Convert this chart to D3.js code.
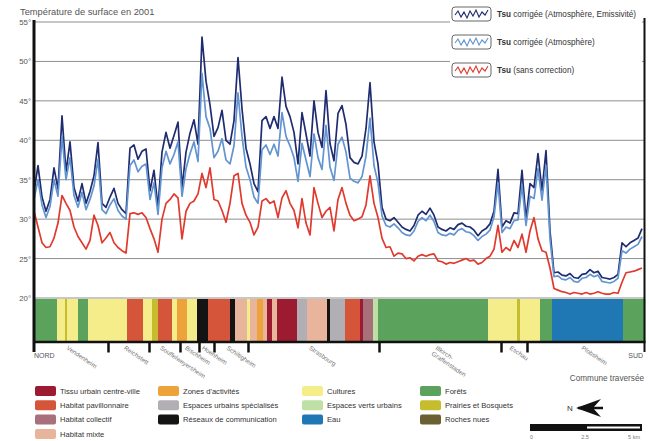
<!DOCTYPE html>
<html><head><meta charset="utf-8">
<script src="https://cdn.jsdelivr.net/npm/d3@7"></script>
<style>body{margin:0;background:#fff} svg{display:block} text{font-family:"Liberation Sans",Arial,sans-serif}</style>
</head><body><svg id="c" width="649" height="441"></svg>
<script>
// Surface temperature along the north-south transect (one sample every step)
const tEmis = [33.5,36.8,32.8,31.0,32.5,36.5,33.8,43.1,36.0,39.8,
 34.0,32.3,34.5,32.0,33.5,35.5,39.7,32.0,31.5,32.8,
 33.9,32.0,31.2,30.7,39.0,39.4,37.6,38.6,38.9,33.6,
 36.2,31.5,38.5,41.0,39.0,40.6,42.3,34.0,38.5,40.9,
 42.6,39.5,53.1,47.5,44.5,40.5,41.6,43.8,40.0,39.5,
 42.5,50.5,44.0,39.0,37.0,34.5,33.5,42.5,43.0,41.5,
 43.0,41.5,48.0,44.3,43.0,41.0,37.0,43.5,40.8,38.0,
 45.0,41.0,39.1,46.3,39.6,37.4,43.4,44.4,42.0,37.8,
 37.2,37.0,38.0,41.5,47.3,39.8,37.0,31.5,30.0,29.8,
 30.2,29.6,29.0,28.7,28.5,29.2,30.5,31.0,30.6,31.4,
 30.5,29.0,28.7,28.5,28.9,28.7,29.3,29.5,29.1,29.0,
 28.6,27.9,28.5,28.8,29.4,31.0,36.3,29.0,29.8,29.5,
 30.8,30.7,36.2,30.0,34.5,34.0,38.3,33.6,38.7,28.5,
 23.2,23.3,22.9,22.8,23.1,22.6,22.5,23.0,23.1,23.6,
 23.2,23.4,22.6,22.5,22.4,22.6,23.0,27.0,26.5,27.0,
 27.3,27.6,28.8];
const tAtm = [32.5,35.0,31.8,30.2,31.6,35.0,32.9,40.5,35.0,37.8,
 33.0,31.5,33.4,31.2,32.5,34.2,37.6,31.2,30.7,31.8,
 32.6,31.1,30.4,30.0,36.8,37.5,36.0,36.7,37.0,32.5,
 34.6,30.6,36.5,38.6,37.0,38.2,39.8,32.9,36.4,38.3,
 39.8,37.3,48.5,43.0,41.5,37.8,38.6,40.2,37.5,37.0,
 39.3,46.0,40.5,36.6,35.0,32.8,32.0,38.8,39.4,38.2,
 39.5,38.0,43.5,40.5,39.3,37.8,34.8,39.6,37.5,35.4,
 40.8,37.8,36.3,41.9,36.6,34.9,39.5,40.4,38.5,35.2,
 34.8,34.6,35.4,38.0,42.8,36.8,34.6,30.4,29.2,29.0,
 29.4,28.9,28.3,28.0,27.9,28.5,29.7,30.2,29.8,30.5,
 29.7,28.3,28.0,27.9,28.2,28.0,28.6,28.8,28.4,28.3,
 27.9,27.3,27.8,28.1,28.6,30.3,34.6,28.3,29.0,28.8,
 29.8,29.9,34.3,29.2,32.9,32.6,36.4,32.4,36.8,27.5,
 22.7,22.8,22.4,22.3,22.6,22.1,22.0,22.5,22.6,23.0,
 22.7,22.9,22.1,22.0,21.9,22.1,22.5,26.0,25.7,26.2,
 26.5,26.8,27.8];
const tRaw = [31.0,29.0,27.0,26.4,26.5,27.6,29.5,33.0,32.0,31.1,
 29.0,27.8,27.0,26.2,27.3,30.5,29.2,27.0,27.6,28.3,
 27.0,26.4,26.0,25.7,30.7,30.8,30.6,30.8,30.2,28.8,
 27.5,25.8,30.0,32.0,32.5,33.2,32.7,27.5,31.0,32.0,
 32.3,33.2,35.8,34.0,36.5,32.5,32.3,31.1,29.6,32.0,
 35.5,35.8,32.0,30.5,29.6,28.0,29.0,32.3,32.6,32.0,
 32.3,30.2,32.7,33.6,32.0,31.1,28.9,32.6,29.5,28.0,
 34.0,32.0,30.2,31.0,31.5,28.5,32.5,34.0,32.0,30.5,
 29.8,30.0,30.3,31.8,35.5,32.0,30.2,27.6,26.4,26.5,
 25.3,25.7,25.6,25.0,25.1,24.7,25.3,25.5,25.3,25.5,
 25.6,24.7,24.6,24.3,24.5,24.4,24.6,24.8,25.0,24.7,
 24.8,24.3,24.5,25.0,25.3,26.2,29.2,25.8,26.4,26.0,
 27.3,26.4,28.1,25.8,28.5,30.2,27.5,26.0,25.8,23.8,
 21.2,21.0,20.8,20.7,20.5,20.7,20.6,20.5,20.7,20.5,
 20.6,20.8,20.6,20.5,20.5,20.7,20.6,22.0,23.2,23.3,
 23.4,23.6,23.8];
const seriesNames = ["corrigée (Atmosphère, Emissivité)","corrigée (Atmosphère)","(sans correction)"];
const seriesColors = ["#1f2c70","#6294d0","#e03a2e"];
const yTicks = [20,25,30,35,40,45,50,55];

// Land use
const landClasses = ["Tissu urbain centre-ville","Habitat pavillonnaire","Habitat collectif","Habitat mixte",
 "Zones d'activités","Espaces urbains spécialisés","Réseaux de communication",
 "Cultures","Espaces verts urbains","Eau",
 "Forêts","Prairies et Bosquets","Roches nues"];
const landColors = ["#9c1b31","#d5553a","#a8707a","#e8b49c","#eea23a","#b2afb4","#141414",
 "#f5ec8a","#bfe0a4","#1f78b4","#5ba35c","#c6bd2e","#6b5f34"];
const segEnd = [5.75,7.75,8.25,11,13.5,23.25,27.25,29.5,31,34.5,35.75,38.25,40.75,43.5,49,50.25,53.25,54,55.75,57.25,
 58.25,59.5,60.75,65.75,68.25,73.25,74,77.75,81.5,82.25,84.75,86,113.5,120.75,121.5,126.5,129.5,147.25,152.75];
const segClass = [10,7,11,7,10,7,1,7,11,1,7,4,7,6,1,6,3,7,3,4,
 3,0,3,0,5,3,6,5,1,0,2,8,10,7,11,7,10,9,10];

// Communes crossed
const communeBounds = [18.5,28.75,36.5,41.25,45,53.5,86.25,116.75,123.25];
const communes = ["Vendenheim","Reichstett","Souffelweyersheim","Bischheim","Hoenheim","Schiltigheim",
 "Strasbourg","Illkirch-|Graffenstaden","Eschau","Plobsheim"];
const scaleLabels = ["0","2.5","5 km"];

const svg = d3.select("#c");
const x = d3.scaleLinear().domain([0,152.75]).range([34,645]);
const y = d3.scaleLinear().domain([20,55]).range([298,22]);

// gridlines
svg.append("g").selectAll("line").data(yTicks).join("line")
  .attr("x1",34).attr("x2",645).attr("y1",d=>y(d)).attr("y2",d=>y(d))
  .attr("stroke","#8e8e8e").attr("stroke-width",1);

// land use band
const segStart = segEnd.map((e,i)=> i ? segEnd[i-1] : 0);
svg.append("g").selectAll("rect").data(segEnd).join("rect")
  .attr("x",(d,i)=>x(segStart[i])).attr("width",(d,i)=>x(d)-x(segStart[i])+0.3)
  .attr("y",299).attr("height",42)
  .attr("fill",(d,i)=>landColors[segClass[i]]);

// series
const line = d3.line().x((d,i)=>x(i)).y(d=>y(d));
[tEmis,tAtm,tRaw].forEach((s,k)=>{
  svg.append("path").datum(s).attr("d",line).attr("fill","none")
    .attr("stroke",seriesColors[k]).attr("stroke-width",1.7).attr("stroke-linejoin","round");
});

// y axis labels
const ya = svg.append("g").attr("transform","translate(31,0)")
  .call(d3.axisLeft(y).tickValues(yTicks).tickSize(0).tickPadding(0).tickFormat(d=>d+"°"));
ya.select(".domain").remove();
ya.selectAll("text").attr("font-size",7.8).attr("fill","#555").attr("font-family","Liberation Sans, Arial, sans-serif");

// frame lines
svg.append("line").attr("x1",34).attr("x2",34).attr("y1",20).attr("y2",352).attr("stroke","#111").attr("stroke-width",3);
svg.append("line").attr("x1",644.5).attr("x2",644.5).attr("y1",18).attr("y2",352).attr("stroke","#111").attr("stroke-width",2);

// bottom axis with commune boundaries
const xa = svg.append("g").attr("transform","translate(0,341.5)")
  .call(d3.axisBottom(x).tickValues(communeBounds).tickSize(11).tickSizeOuter(0).tickFormat(""));
xa.select(".domain").attr("stroke","#111").attr("stroke-width",2.5);
xa.selectAll(".tick line").attr("stroke","#111").attr("stroke-width",2.5);

// commune labels
const bnds = [0,...communeBounds,152.75];
communes.forEach((name,i)=>{
  const c = (bnds[i]+bnds[i+1])/2;
  const t = svg.append("text").attr("transform",`translate(${x(c)-5},349) rotate(34)`)
    .attr("font-size",6.3).attr("fill","#777");
  name.split("|").forEach((part,j)=>{
    t.append("tspan").attr("x",0).attr("dy",j?7:0).text(part);
  });
});
svg.append("text").attr("x",34).attr("y",358).attr("font-size",7).attr("fill","#555").text("NORD");
svg.append("text").attr("x",643).attr("y",358).attr("text-anchor","end").attr("font-size",7).attr("fill","#555").text("SUD");
svg.append("text").attr("x",644).attr("y",381).attr("text-anchor","end").attr("font-size",8.2).attr("fill","#555").text("Commune traversée");

// title
svg.append("text").attr("x",20).attr("y",15).attr("font-size",9.3).attr("fill","#555").text("Température de surface en 2001");

// series legend
svg.append("rect").attr("x",450).attr("y",3).attr("width",192).attr("height",80).attr("fill","#fff");
const wave = [[3,8],[6,4],[9,10],[12,5],[15,11],[18,4],[21,9],[24,3],[27,10],[30,5],[33,8],[36,3]];
const legY = [7,35,63];
seriesNames.forEach((n,k)=>{
  const g = svg.append("g").attr("transform",`translate(452,${legY[k]})`);
  g.append("rect").attr("width",39).attr("height",14).attr("rx",3).attr("fill","#fff").attr("stroke","#666").attr("stroke-width",1);
  g.append("path").attr("d",d3.line()(wave)).attr("fill","none").attr("stroke",seriesColors[k]).attr("stroke-width",1.1);
  const t = g.append("text").attr("x",45).attr("y",10).attr("font-size",8.2).attr("fill","#333");
  t.append("tspan").attr("font-weight","bold").text("Tsu");
  t.append("tspan").text(" "+n);
});

// land-use legend
const colX = [35,158,302,420];
const colStart = [0,4,7,10];
landClasses.forEach((n,i)=>{
  const col = i<4?0:i<7?1:i<10?2:3;
  const row = i - colStart[col];
  const yy = 386 + row*14.3;
  svg.append("rect").attr("x",colX[col]).attr("y",yy).attr("width",21).attr("height",10).attr("rx",2).attr("fill",landColors[i]);
  svg.append("text").attr("x",colX[col]+25).attr("y",yy+7.8).attr("font-size",7.6).attr("fill","#333").text(n);
});

// north arrow
svg.append("text").attr("x",567).attr("y",411).attr("font-size",8).attr("fill","#333").text("N");
svg.append("line").attr("x1",578).attr("x2",603).attr("y1",408).attr("y2",408).attr("stroke","#111").attr("stroke-width",2.5);
svg.append("path").attr("d","M576,408 L601,399 L593,408 L601,417 Z").attr("fill","#111");

// scale bar
svg.append("rect").attr("x",530).attr("y",424).attr("width",112).attr("height",7).attr("fill","#111");
svg.append("rect").attr("x",587).attr("y",426.5).attr("width",53).attr("height",2).attr("fill","#fff");
const sx = [530,585,640];
scaleLabels.forEach((s,i)=>{
  svg.append("text").attr("x",sx[i]).attr("y",439).attr("text-anchor",i==0?"start":i==2?"end":"middle")
    .attr("font-size",5.5).attr("fill","#777").text(s);
});
</script></body></html>
